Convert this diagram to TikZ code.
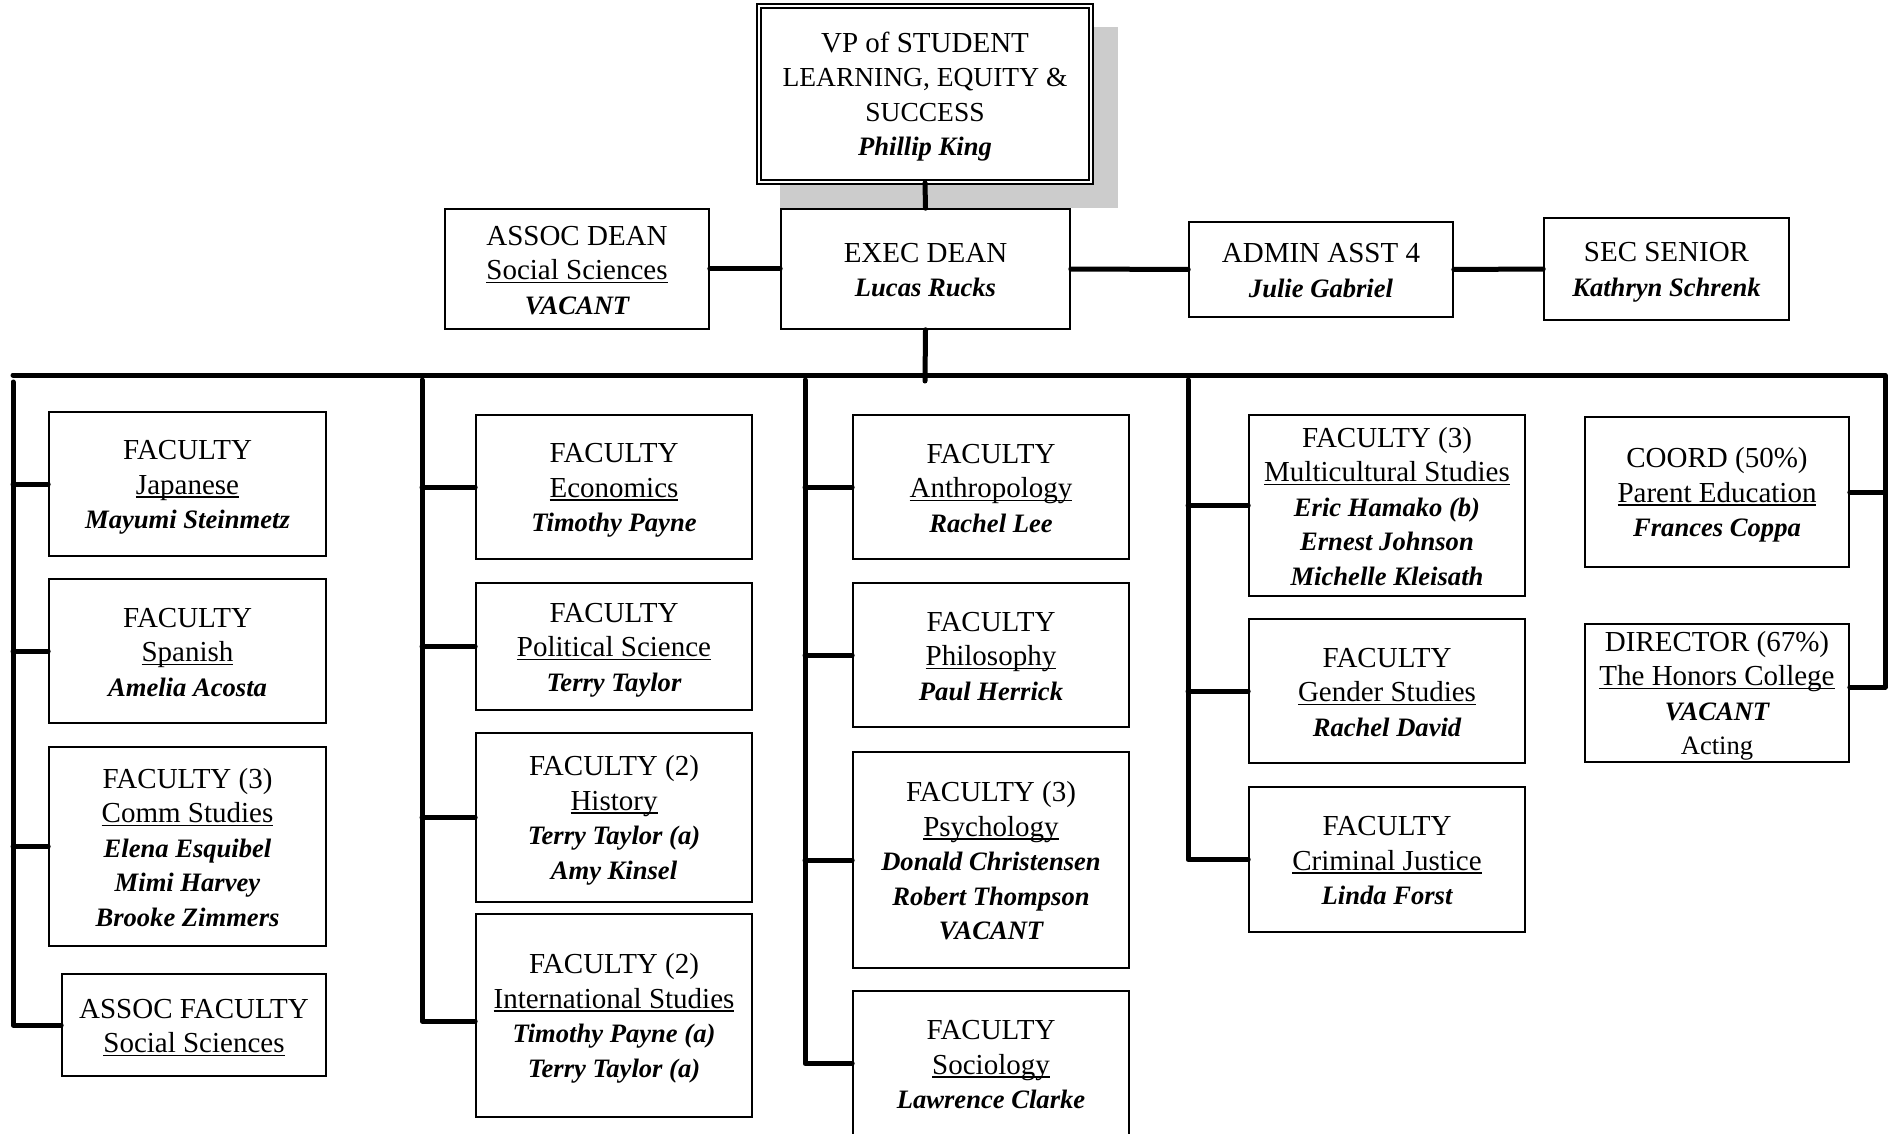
\documentclass[tikz,border=0pt]{standalone}
\usepackage{fontspec}
\setmainfont{Liberation Serif}
\newcommand\tf{\fontsize{29}{34.5}\selectfont}
\newcommand\nm{\fontsize{26.6}{34.5}\selectfont\bfseries\itshape}
\newcommand\sm{\fontsize{27.5}{34.5}\selectfont}
\newcommand\topst{\leavevmode\rule{0pt}{26pt}}
\newcommand\myul[1]{\leavevmode\setbox0=\hbox{#1}\rlap{\rule[-3.5pt]{\wd0}{1.5pt}}\box0}
\begin{document}
\begin{tikzpicture}[x=1pt,y=-1pt,
  box/.style={draw, line width=1.6pt, align=center, inner xsep=2pt, inner ysep=0pt, font=\tf, fill=white,
    execute at end node={\rule[-5pt]{0pt}{5pt}}},
  conn/.style={line width=5pt, line cap=round, line join=round}]
\useasboundingbox (0,0) rectangle (1891,1134);
\clip (0,0) rectangle (1891,1134);
\fill[white] (0,0) rectangle (1891,1134);
% shadow of the VP box
\fill[gray!40] (780,27) rectangle (1118,208);
% top row
\node[box, double, double distance=2.5pt, line width=1.5pt, minimum width=332, minimum height=176] (vp) at (925,94)
  {\topst VP of STUDENT\\{\sm LEARNING, EQUITY \&}\\{\sm SUCCESS}\\{\nm Phillip King}};
\node[box, minimum width=264, minimum height=120] (adean) at (577,269)
  {\topst ASSOC DEAN\\\myul{Social Sciences}\\{\nm VACANT}};
\node[box, minimum width=289, minimum height=120] (exec) at (925.5,269)
  {\topst EXEC DEAN\\{\nm Lucas Rucks}};
\node[box, minimum width=264, minimum height=95] (admin) at (1321,269.5)
  {\topst ADMIN ASST 4\\{\nm Julie Gabriel}};
\node[box, minimum width=245, minimum height=102] (sec) at (1666.5,269)
  {\topst SEC SENIOR\\{\nm Kathryn Schrenk}};
% column 1
\node[box, minimum width=277, minimum height=144] (jap) at (187.5,484)
  {\topst FACULTY\\\myul{Japanese}\\{\nm Mayumi Steinmetz}};
\node[box, minimum width=277, minimum height=144] (spa) at (187.5,651)
  {\topst FACULTY\\\myul{Spanish}\\{\nm Amelia Acosta}};
\node[box, minimum width=277, minimum height=199] (comm) at (187.5,846.5)
  {\topst FACULTY (3)\\\myul{Comm Studies}\\{\nm Elena Esquibel}\\{\nm Mimi Harvey}\\{\nm Brooke Zimmers}};
\node[box, minimum width=264, minimum height=102] (afac) at (194,1025)
  {\topst ASSOC FACULTY\\\myul{Social Sciences}};
% column 2
\node[box, minimum width=276, minimum height=144] (econ) at (614,487)
  {\topst FACULTY\\\myul{Economics}\\{\nm Timothy Payne}};
\node[box, minimum width=276, minimum height=127] (poli) at (614,646.5)
  {\topst FACULTY\\\myul{Political Science}\\{\nm Terry Taylor}};
\node[box, minimum width=276, minimum height=169] (hist) at (614,817.5)
  {\topst FACULTY (2)\\\myul{History}\\{\nm Terry Taylor (a)}\\{\nm Amy Kinsel}};
\node[box, minimum width=276, minimum height=203] (intl) at (614,1015.5)
  {\topst FACULTY (2)\\\myul{International Studies}\\{\nm Timothy Payne (a)}\\{\nm Terry Taylor (a)}};
% column 3
\node[box, minimum width=276, minimum height=144] (anth) at (991,487)
  {\topst FACULTY\\\myul{Anthropology}\\{\nm Rachel Lee}};
\node[box, minimum width=276, minimum height=144] (phil) at (991,655)
  {\topst FACULTY\\\myul{Philosophy}\\{\nm Paul Herrick}};
\node[box, minimum width=276, minimum height=216] (psy) at (991,860)
  {\topst FACULTY (3)\\\myul{Psychology}\\{\nm Donald Christensen}\\{\nm Robert Thompson}\\{\nm VACANT}};
\node[box, minimum width=276, minimum height=145] (soc) at (991,1063.5)
  {\topst FACULTY\\\myul{Sociology}\\{\nm Lawrence Clarke}};
% column 4
\node[box, minimum width=276, minimum height=181] (mult) at (1387,505.5)
  {\topst FACULTY (3)\\\myul{Multicultural Studies}\\{\nm Eric Hamako (b)}\\{\nm Ernest Johnson}\\{\nm Michelle Kleisath}};
\node[box, minimum width=276, minimum height=144] (gend) at (1387,691)
  {\topst FACULTY\\\myul{Gender Studies}\\{\nm Rachel David}};
\node[box, minimum width=276, minimum height=145] (crim) at (1387,859.5)
  {\topst FACULTY\\\myul{Criminal Justice}\\{\nm Linda Forst}};
% column 5
\node[box, minimum width=264, minimum height=150] (coord) at (1717,492)
  {\topst COORD (50\%)\\\myul{Parent Education}\\{\nm Frances Coppa}};
\node[box, minimum width=264, minimum height=138] (dir) at (1717,693)
  {\topst DIRECTOR (67\%)\\\myul{The Honors College}\\{\nm VACANT}\\{\fontsize{26.6}{34.5}\selectfont Acting}};
% coordinates of the bus lines
\coordinate (busL) at (13,375);
\coordinate (busR) at (1885,375);
\coordinate (stub) at (925,381);
\coordinate (v1) at (13,382);
\coordinate (v2) at (422,380);
\coordinate (v3) at (805,380);
\coordinate (v4) at (1188,380);
% top connectors
\draw[conn] (vp.south) -- (exec.north);
\draw[conn] (adean.east) -- (exec.west);
\draw[conn] (exec.east) -- (admin.west);
\draw[conn] (admin.east) -- (sec.west);
\draw[conn] (exec.south) -- (stub);
\draw[conn] (busL) -- (busR) |- ([yshift=6pt]dir.east);
\draw[conn] (busR |- coord.east) -- (coord.east);
% column connectors
\draw[conn] (v1) |- (afac.west);
\foreach \nd in {jap,spa,comm} \draw[conn] (v1 |- \nd.west) -- (\nd.west);
\draw[conn] (v2) |- ([yshift=-5.5pt]intl.west);
\foreach \nd in {econ,poli,hist} \draw[conn] (v2 |- \nd.west) -- (\nd.west);
\draw[conn] (v3) |- (soc.west);
\foreach \nd in {anth,phil,psy} \draw[conn] (v3 |- \nd.west) -- (\nd.west);
\draw[conn] (v4) |- (crim.west);
\foreach \nd in {mult,gend} \draw[conn] (v4 |- \nd.west) -- (\nd.west);
\end{tikzpicture}
\end{document}
